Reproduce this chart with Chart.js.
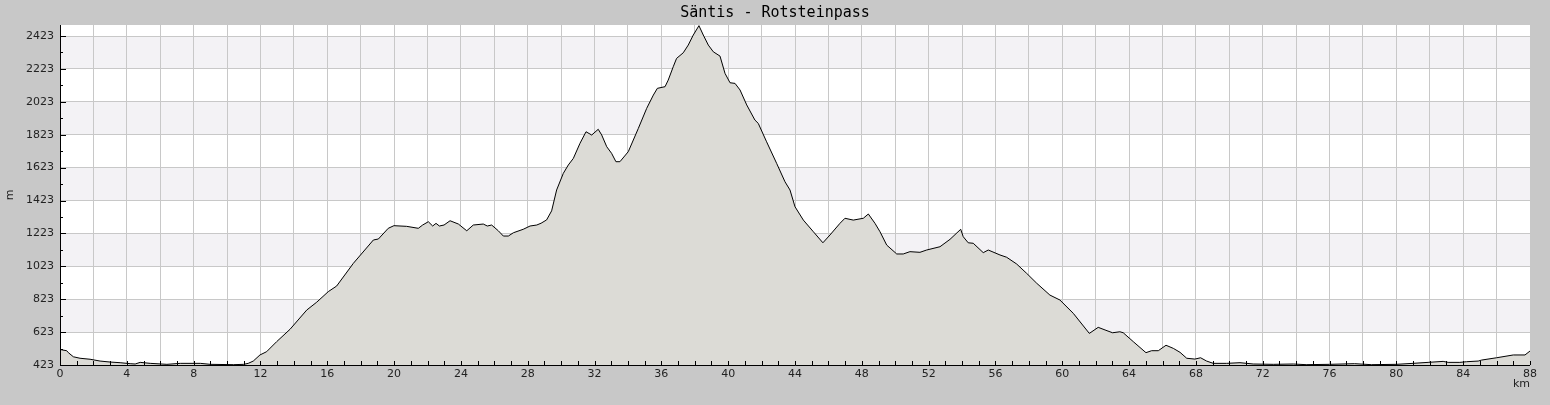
<!DOCTYPE html>
<html>
<head>
<meta charset="utf-8">
<script src="https://cdn.jsdelivr.net/npm/chart.js@4/dist/chart.umd.min.js"></script>
<style>
  html, body { margin: 0; padding: 0; background: #c8c8c8; }
  canvas { display: block; }
</style>
</head>
<body>
<canvas id="profile" width="1550" height="405"></canvas>
<script>
// elevation profile
const distKm = [
  0, 0.16, 0.4, 0.5, 0.8, 1.2, 1.8, 2.4, 3.0, 3.6, 4.2, 4.5, 4.8, 5.4, 6.4, 7.2, 8.4, 9.0, 10.4, 11.0,
  11.27, 11.57, 11.97, 12.37, 12.97, 13.77, 14.77, 15.37, 16.06, 16.56, 17.56, 18.76, 19.06, 19.65, 19.99,
  20.75, 21.45, 21.71, 22.05, 22.31, 22.51, 22.71, 22.99, 23.35, 23.85, 24.35, 24.74, 25.34, 25.58, 25.84,
  26.24, 26.54, 26.84, 27.14, 27.73, 28.14, 28.54, 28.8, 29.13, 29.43, 29.73, 30.13, 30.43, 30.73, 31.13,
  31.49, 31.83, 32.22, 32.43, 32.73, 33.02, 33.28, 33.52, 34.02, 34.62, 35.12, 35.52, 35.76, 36.22, 36.41,
  36.71, 36.91, 37.31, 37.61, 37.91, 38.25, 38.51, 38.81, 39.11, 39.51, 39.81, 40.11, 40.41, 40.71, 41.11,
  41.6, 41.8, 42.3, 42.9, 43.4, 43.7, 44.0, 44.5, 45.1, 45.67, 46.09, 46.69, 46.99, 47.49, 48.09, 48.39,
  48.79, 49.09, 49.49, 50.09, 50.48, 50.88, 51.48, 51.88, 52.68, 53.28, 53.92, 54.07, 54.37, 54.67, 55.27,
  55.57, 56.27, 56.67, 57.27, 57.87, 58.47, 59.26, 59.86, 60.66, 61.62, 62.15, 62.56, 63.01, 63.45, 63.65,
  64.25, 65.01, 65.35, 65.75, 66.21, 66.65, 67.05, 67.45, 67.94, 68.28, 68.64, 69.04, 69.84, 70.64, 71.43,
  72.63, 73.83, 74.6, 76.0, 77.5, 78.5, 80.0, 81.0, 81.9, 82.8, 83.1, 83.8, 84.2, 84.9, 85.1, 86.0, 87.0,
  87.7, 88.0
];
const elevM = [
  518, 514, 510, 498, 473, 464, 458, 447, 441, 437, 431, 429, 439, 433, 427, 433, 433, 427, 425, 427,
  433, 447, 484, 504, 565, 640, 757, 805, 869, 903, 1041, 1183, 1189, 1254, 1270,
  1266, 1254, 1274, 1294, 1268, 1284, 1268, 1274, 1300, 1280, 1239, 1274, 1280, 1268, 1274,
  1239, 1207, 1207, 1227, 1248, 1268, 1274, 1285, 1305, 1360, 1487, 1588, 1639, 1679, 1771,
  1841, 1821, 1856, 1821, 1750, 1710, 1659, 1659, 1720, 1861, 1983, 2064, 2105, 2115, 2155,
  2236, 2287, 2321, 2368, 2429, 2486, 2429, 2368, 2327, 2301, 2196, 2139, 2135, 2095, 2004,
  1912, 1892, 1780, 1649, 1537, 1487, 1385, 1304, 1233, 1166, 1213, 1284, 1315, 1304, 1315, 1341,
  1284, 1233, 1152, 1098, 1098, 1112, 1108, 1122, 1142, 1187, 1248, 1203, 1166, 1163, 1106,
  1122, 1092, 1078, 1037, 980, 920, 848, 818, 737, 615, 652, 636, 619, 625, 619,
  565, 498, 510, 510, 543, 524, 500, 464, 459, 467, 447, 433, 433, 437, 429,
  427, 429, 425, 427, 431, 425, 427, 433, 439, 445, 439, 439, 443, 447, 453, 467, 484,
  484, 508
];

const yMajorTicks = [423, 623, 823, 1023, 1223, 1423, 1623, 1823, 2023, 2223, 2423];
const yMinorTicks = [523, 723, 923, 1123, 1323, 1523, 1723, 1923, 2123, 2323];
const xLabelTicks = [0, 4, 8, 12, 16, 20, 24, 28, 32, 36, 40, 44, 48, 52, 56, 60, 64, 68, 72, 76, 80, 84, 88];

const GRID = '#c8c8c8';
const BAND = '#f3f2f5';

// white plot area with alternating grey bands between the labelled heights
const bandsPlugin = {
    id: 'bands',
    afterLayout(chart) {
        // center the title on the whole canvas, not on the padded box
        if (chart.titleBlock) {
            chart.titleBlock.left = 0;
            chart.titleBlock.right = chart.width;
            chart.titleBlock.width = chart.width;
        }
    },
    beforeDraw(chart) {
        const { ctx, chartArea: a, scales: { y } } = chart;
        ctx.save();
        ctx.fillStyle = '#fff';
        ctx.fillRect(a.left, a.top, a.right - a.left, a.bottom - a.top);
        ctx.fillStyle = BAND;
        for (let i = 1; i < yMajorTicks.length - 1; i += 2) {
            const top = y.getPixelForValue(yMajorTicks[i + 1]);
            const bot = y.getPixelForValue(yMajorTicks[i]);
            ctx.fillRect(a.left, top, a.right - a.left, bot - top);
        }
        ctx.restore();
    }
};

// axis lines and inward tick marks, drawn over the filled profile
const axisPlugin = {
    id: 'axisTicks',
    afterDatasetsDraw(chart) {
        const { ctx, chartArea: a, scales: { x, y } } = chart;
        ctx.save();
        ctx.strokeStyle = '#000';
        ctx.lineWidth = 1;
        ctx.beginPath();
        ctx.moveTo(a.left + 0.5, a.top);
        ctx.lineTo(a.left + 0.5, a.bottom + 0.5);
        ctx.lineTo(a.right, a.bottom + 0.5);
        for (let km = 1; km <= 88; km++) {
            const px = Math.round(x.getPixelForValue(km)) + 0.5;
            ctx.moveTo(px, a.bottom);
            ctx.lineTo(px, a.bottom - 4);
        }
        yMajorTicks.concat(yMinorTicks).forEach(v => {
            const py = Math.round(y.getPixelForValue(v)) + 0.5;
            const len = yMajorTicks.includes(v) ? 6 : 3;
            ctx.moveTo(a.left, py);
            ctx.lineTo(a.left + len, py);
        });
        ctx.stroke();
        ctx.restore();
    }
};

Chart.defaults.font.family = 'DejaVu Sans';
Chart.defaults.font.size = 11;
Chart.defaults.color = '#222';

new Chart(document.getElementById('profile').getContext('2d'), {
    type: 'line',
    data: {
        datasets: [{
            label: 'Höhe',
            data: distKm.map((d, i) => ({ x: d, y: elevM[i] })),
            borderColor: '#000',
            borderWidth: 1,
            backgroundColor: '#dcdbd6',
            fill: 'start',
            pointRadius: 0,
            tension: 0
        }]
    },
    options: {
        responsive: false,
        animation: false,
        devicePixelRatio: 1,
        layout: { padding: { left: 0, right: 20, top: 0, bottom: 0 } },
        plugins: {
            legend: { display: false },
            tooltip: { enabled: false },
            title: {
                display: true,
                text: 'Säntis - Rotsteinpass',
                color: '#000',
                font: { family: 'DejaVu Sans Mono', size: 15, weight: 'normal', lineHeight: 1 },
                padding: { top: 6, bottom: 4 }
            }
        },
        scales: {
            x: {
                type: 'linear',
                min: 0,
                max: 88,
                afterBuildTicks: s => { s.ticks = xLabelTicks.flatMap(v => v < 88 ? [v, v + 2] : [v]).map(v => ({ value: v })); },
                afterFit: s => { s.height = 40; },
                ticks: {
                    autoSkip: false,
                    maxRotation: 0,
                    padding: 3,
                    callback: v => xLabelTicks.includes(v) ? String(v) : ''
                },
                grid: { color: GRID, drawTicks: false },
                border: { display: false },
                title: {
                    display: true,
                    text: 'km',
                    align: 'end',
                    padding: { top: 0, bottom: 14 }
                }
            },
            y: {
                min: 423,
                max: 2490,
                afterBuildTicks: s => { s.ticks = yMajorTicks.map(v => ({ value: v })); },
                afterFit: s => { s.width = 60; },
                ticks: { padding: 6, callback: v => String(v) },
                grid: { color: GRID, drawTicks: false },
                border: { display: false },
                title: {
                    display: true,
                    text: 'm',
                    padding: { top: 4, bottom: 0 }
                }
            }
        }
    },
    plugins: [bandsPlugin, axisPlugin]
});
</script>
</body>
</html>
